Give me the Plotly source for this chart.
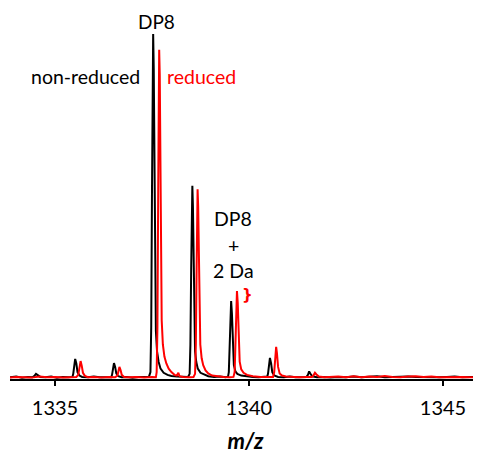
import plotly.graph_objects as go

# ---- data (intensity relative to non-reduced DP8 = 100) ----
nonreduced_mz = [
    1333.84, 1334.00, 1334.15, 1334.30, 1334.42, 1334.47, 1334.51, 1334.56, 1334.62, 1334.75,
    1334.90, 1335.05, 1335.20, 1335.35, 1335.45,
    1335.47, 1335.50, 1335.52, 1335.55, 1335.58, 1335.63, 1335.70,
    1335.85, 1336.00, 1336.15, 1336.30, 1336.45,
    1336.47, 1336.50, 1336.52, 1336.55, 1336.58, 1336.63, 1336.72,
    1336.85, 1337.00, 1337.15, 1337.30, 1337.42,
    1337.46, 1337.48, 1337.50, 1337.52, 1337.53, 1337.545, 1337.56, 1337.58, 1337.60, 1337.63,
    1337.67, 1337.72, 1337.80, 1337.90, 1338.00, 1338.15, 1338.30, 1338.43,
    1338.47, 1338.49, 1338.51, 1338.53, 1338.54, 1338.555, 1338.57, 1338.59, 1338.61, 1338.64,
    1338.68, 1338.75, 1338.85, 1338.95, 1339.10, 1339.25, 1339.40, 1339.46,
    1339.48, 1339.50, 1339.52, 1339.54, 1339.56, 1339.58, 1339.61, 1339.65, 1339.70, 1339.80,
    1339.95, 1340.10, 1340.25, 1340.40, 1340.47,
    1340.49, 1340.52, 1340.54, 1340.57, 1340.60, 1340.65, 1340.75, 1340.90, 1341.05, 1341.20,
    1341.35, 1341.48,
    1341.52, 1341.55, 1341.58, 1341.63, 1341.75, 1341.90, 1342.10, 1342.30, 1342.50, 1342.70,
    1342.90, 1343.10, 1343.30, 1343.50, 1343.70, 1343.90, 1344.10, 1344.30, 1344.50, 1344.70,
    1344.90, 1345.10, 1345.30, 1345.50, 1345.70, 1345.98,
]
nonreduced_int = [
    0.5, 0.7, 0.4, 0.6, 0.5, 0.9, 1.5, 1.0, 0.6, 0.5,
    0.7, 0.4, 0.6, 0.5, 0.6,
    1.5, 4.5, 5.8, 4.5, 2.0, 1.0, 0.6,
    0.5, 0.7, 0.5, 0.6, 0.5,
    1.2, 3.6, 4.6, 3.5, 1.6, 0.8, 0.5,
    0.6, 0.4, 0.6, 0.5, 0.6,
    2.0, 15.0, 55.0, 92.0, 100.0, 90.0, 60.0, 28.0, 14.0, 8.0,
    5.0, 3.0, 1.8, 1.2, 0.9, 0.7, 0.6, 0.6,
    1.5, 10.0, 32.0, 52.0, 56.0, 50.0, 33.0, 15.0, 8.0, 5.0,
    3.0, 1.8, 1.2, 0.8, 0.6, 0.7, 0.5, 0.7,
    2.0, 10.0, 19.0, 22.6, 19.0, 10.0, 4.0, 2.2, 1.5, 1.0,
    0.7, 0.6, 0.5, 0.6, 0.7,
    1.5, 4.5, 6.1, 4.5, 2.0, 1.0, 0.6, 0.5, 0.7, 0.5,
    0.6, 0.6,
    1.2, 2.2, 1.6, 0.8, 0.5, 0.6, 0.4, 0.6, 0.5, 0.7,
    0.5, 0.6, 0.8, 0.5, 0.6, 0.5, 0.7, 0.6, 0.5, 0.6,
    0.5, 0.6, 0.7, 0.5, 0.6, 0.5,
]

reduced_mz = [
    1333.84, 1334.00, 1334.20, 1334.40, 1334.60, 1334.80, 1335.00, 1335.20, 1335.40, 1335.55,
    1335.60, 1335.63, 1335.66, 1335.69, 1335.72, 1335.77, 1335.85,
    1336.00, 1336.20, 1336.40, 1336.55,
    1336.61, 1336.64, 1336.66, 1336.69, 1336.72, 1336.78,
    1336.90, 1337.10, 1337.30, 1337.50, 1337.60,
    1337.62, 1337.64, 1337.66, 1337.675, 1337.685, 1337.70, 1337.715, 1337.73, 1337.75, 1337.78,
    1337.82, 1337.87, 1337.93, 1338.00, 1338.08, 1338.14, 1338.18, 1338.21, 1338.30, 1338.45,
    1338.57,
    1338.61, 1338.63, 1338.65, 1338.665, 1338.675, 1338.69, 1338.705, 1338.72, 1338.745, 1338.78,
    1338.82, 1338.88, 1338.95, 1339.05, 1339.20, 1339.35, 1339.50, 1339.60,
    1339.63, 1339.65, 1339.67, 1339.69, 1339.71, 1339.73, 1339.76, 1339.80, 1339.86, 1339.95,
    1340.10, 1340.30, 1340.50, 1340.62,
    1340.65, 1340.67, 1340.70, 1340.72, 1340.75, 1340.79, 1340.85, 1340.95, 1341.10, 1341.30,
    1341.50, 1341.62,
    1341.66, 1341.70, 1341.74, 1341.80, 1341.95, 1342.10, 1342.30, 1342.50, 1342.70, 1342.90,
    1343.10, 1343.30, 1343.50, 1343.70, 1343.90, 1344.10, 1344.30, 1344.50, 1344.70, 1344.90,
    1345.10, 1345.30, 1345.50, 1345.70, 1345.98,
]
reduced_int = [
    0.4, 0.6, 0.5, 0.4, 0.7, 0.5, 0.6, 0.4, 0.5, 0.6,
    1.2, 4.0, 5.2, 3.8, 1.8, 0.9, 0.5,
    0.6, 0.4, 0.6, 0.5,
    1.0, 2.8, 3.5, 2.6, 1.2, 0.6,
    0.5, 0.6, 0.4, 0.6, 0.5,
    2.0, 15.0, 55.0, 88.0, 95.4, 88.0, 62.0, 32.0, 17.0, 10.0,
    6.5, 4.5, 3.0, 2.0, 1.2, 1.0, 1.8, 0.8, 0.6, 0.5,
    0.6,
    1.5, 10.0, 32.0, 50.0, 55.0, 50.0, 35.0, 18.0, 10.0, 6.0,
    4.0, 2.5, 1.6, 1.0, 0.7, 0.6, 0.5, 0.6,
    2.0, 11.0, 21.0, 25.5, 22.0, 12.0, 5.0, 2.8, 1.8, 1.2,
    0.8, 0.6, 0.5, 0.6,
    2.0, 6.0, 9.3, 7.5, 3.5, 1.6, 1.0, 0.7, 0.6, 0.5,
    0.6, 0.6,
    1.0, 1.8, 1.3, 0.7, 0.5, 0.6, 0.7, 0.5, 0.8, 0.5,
    0.7, 0.6, 0.9, 0.6, 0.5, 0.7, 0.8, 0.6, 0.7, 0.5,
    0.6, 0.7, 0.6, 0.5, 0.6,
]

tick_values = [1335, 1340, 1345]
tick_labels = ["1335", "1340", "1345"]

FONT = "Lato"

fig = go.Figure()
fig.add_trace(go.Scatter(x=nonreduced_mz, y=nonreduced_int, mode="lines",
                         line=dict(color="black", width=2), name="non-reduced",
                         showlegend=False))
fig.add_trace(go.Scatter(x=reduced_mz, y=reduced_int, mode="lines",
                         line=dict(color="#ff0000", width=2), name="reduced",
                         showlegend=False))

ann = [
    dict(text="DP8", x=1337.62, y=103.5, color="black", size=19, family=FONT),
    dict(text="non-reduced", x=1335.79, y=87.8, color="black", size=19.5, family=FONT),
    dict(text="reduced", x=1338.78, y=87.8, color="#ff0000", size=19.5, family=FONT),
    dict(text="DP8", x=1339.59, y=46.4, color="black", size=19.5, family=FONT),
    dict(text="+", x=1339.59, y=38.6, color="black", size=19.5, family=FONT),
    dict(text="2 Da", x=1339.59, y=31.4, color="black", size=19.5, family=FONT),
    dict(text="<b>}</b>", x=1339.97, y=24.4, color="#ff0000", size=15, family="DejaVu Sans"),
]
for a in ann:
    fig.add_annotation(x=a["x"], y=a["y"], xref="x", yref="y", text=a["text"],
                       showarrow=False, xanchor="center", yanchor="middle",
                       font=dict(family=a["family"], size=a["size"], color=a["color"]))

fig.update_layout(
    width=473, height=449,
    margin=dict(l=2, r=0, t=12, b=78, autoexpand=False),
    paper_bgcolor="white", plot_bgcolor="white",
    xaxis=dict(range=[1333.84, 1345.98], tickvals=tick_values, ticktext=tick_labels,
               showgrid=False, zeroline=False, showline=True, linecolor="black",
               linewidth=2, ticks="outside", ticklen=5, tickwidth=2, tickcolor="black",
               ticklabelstandoff=5,
               tickfont=dict(family=FONT, size=20, color="black"),
               title=dict(text="<b><i>m/z</i></b>", standoff=16,
                          font=dict(family=FONT, size=22, color="black"))),
    yaxis=dict(range=[0, 104.06], visible=False, showgrid=False, zeroline=False),
)

fig.write_html("out.html")
